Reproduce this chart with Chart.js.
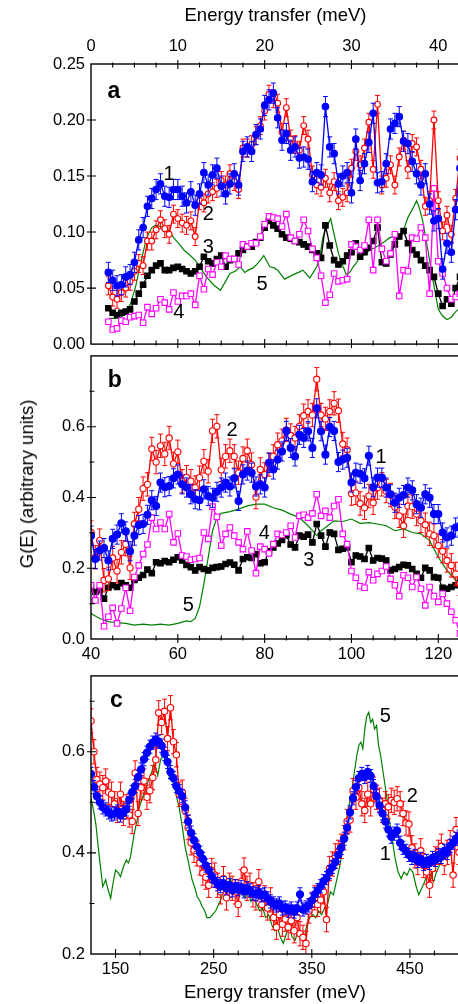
<!DOCTYPE html>
<html>
<head>
<meta charset="utf-8">
<script src="https://cdn.jsdelivr.net/npm/chart.js@4.4.1/dist/chart.umd.min.js"></script>
<style>
  html, body { margin: 0; padding: 0; background: #fff; overflow: hidden; width: 458px; height: 1004px; }
  canvas { position: absolute; left: 0; }
  #ytitle {
    position: absolute; left: 27px; top: 484px;
    transform: translate(-50%, -50%) rotate(-90deg);
    white-space: nowrap; font: 18.5px "Liberation Sans", Arial, sans-serif; color: #000;
  }
</style>
</head>
<body>
<canvas id="chartA" width="480" height="360" style="top:0px"></canvas>
<canvas id="chartB" width="480" height="335" style="top:340px"></canvas>
<canvas id="chartC" width="480" height="344" style="top:660px"></canvas>
<div id="ytitle">G(E) (arbitrary units)</div>
<script>
// energy grids (meV)
function grid(start, step, count) {
  const out = [];
  for (let i = 0; i < count; i++) out.push(+(start + i * step).toFixed(3));
  return out;
}
const energyA = grid(2, 0.5, 82);   // 2 .. 42.5
const energyB = grid(40, 1, 86);    // 40 .. 125
const energyC = grid(125, 3, 126);  // 125 .. 500

// ---- panel a ----
const blueA = [
  0.064, 0.057, 0.052, 0.053, 0.060, 0.062, 0.073, 0.093, 0.104, 0.123,
  0.130, 0.138, 0.143, 0.132, 0.131, 0.138, 0.138, 0.132, 0.126, 0.136,
  0.124, 0.134, 0.153, 0.142, 0.151, 0.157, 0.141, 0.134, 0.143, 0.152,
  0.142, 0.172, 0.176, 0.172, 0.187, 0.192, 0.213, 0.218, 0.224, 0.202,
  0.182, 0.188, 0.173, 0.176, 0.166, 0.167, 0.165, 0.145, 0.153, 0.151,
  0.212, 0.176, 0.170, 0.143, 0.150, 0.153, 0.135, 0.183, 0.146, 0.161,
  0.180, 0.206, 0.144, 0.145, 0.161, 0.192, 0.197, 0.203, 0.181, 0.179,
  0.163, 0.152, 0.142, 0.152, 0.125, 0.110, 0.112, 0.067, 0.090, 0.082,
  0.120, 0.157
];
const redA = [
  0.052, 0.042, 0.040, 0.046, 0.050, 0.056, 0.065, 0.072, 0.070, 0.092,
  0.092, 0.102, 0.111, 0.103, 0.098, 0.116, 0.112, 0.108, 0.106, 0.110,
  0.096, 0.128, 0.126, 0.134, 0.136, 0.139, 0.146, 0.142, 0.152, 0.145,
  0.138, 0.175, 0.175, 0.178, 0.186, 0.195, 0.208, 0.223, 0.219, 0.215,
  0.189, 0.211, 0.183, 0.178, 0.173, 0.195, 0.183, 0.151, 0.142, 0.140,
  0.148, 0.135, 0.145, 0.128, 0.131, 0.135, 0.157, 0.172, 0.160, 0.175,
  0.198, 0.156, 0.214, 0.142, 0.148, 0.160, 0.142, 0.167, 0.182, 0.156,
  0.179, 0.176, 0.156, 0.123, 0.128, 0.200, 0.128, 0.101, 0.115, 0.098,
  0.130, 0.166
];
const blackA = [
  0.032, 0.028, 0.026, 0.028, 0.029, 0.031, 0.038, 0.045, 0.053, 0.061,
  0.066, 0.070, 0.072, 0.066, 0.066, 0.068, 0.069, 0.067, 0.065, 0.063,
  0.065, 0.069, 0.078, 0.074, 0.072, 0.076, 0.079, 0.069, 0.075, 0.076,
  0.081, 0.084, 0.087, 0.087, 0.091, 0.095, 0.104, 0.110, 0.106, 0.103,
  0.098, 0.095, 0.094, 0.092, 0.091, 0.089, 0.087, 0.084, 0.081, 0.077,
  0.106, 0.088, 0.075, 0.071, 0.074, 0.079, 0.082, 0.090, 0.078, 0.082,
  0.086, 0.092, 0.104, 0.073, 0.072, 0.080, 0.089, 0.096, 0.101, 0.090,
  0.084, 0.080, 0.075, 0.070, 0.066, 0.060, 0.045, 0.034, 0.040, 0.036,
  0.050, 0.060
];
const magentaA = [
  0.020, 0.013, 0.014, 0.021, 0.020, 0.024, 0.025, 0.026, 0.019, 0.033,
  0.027, 0.032, 0.040, 0.037, 0.031, 0.046, 0.038, 0.043, 0.043, 0.045,
  0.035, 0.061, 0.049, 0.067, 0.062, 0.073, 0.069, 0.079, 0.076, 0.076,
  0.071, 0.089, 0.087, 0.090, 0.090, 0.096, 0.107, 0.114, 0.113, 0.112,
  0.105, 0.116, 0.095, 0.092, 0.098, 0.111, 0.101, 0.085, 0.077, 0.061,
  0.037, 0.044, 0.063, 0.056, 0.057, 0.058, 0.089, 0.087, 0.084, 0.088,
  0.111, 0.066, 0.111, 0.085, 0.074, 0.081, 0.098, 0.043, 0.066, 0.065,
  0.095, 0.094, 0.104, 0.095, 0.045, 0.139, 0.074, 0.063, 0.050, 0.040,
  0.042, 0.045
];
const greenAE = [
  2, 3, 3.9, 4.5, 5.1, 5.8, 6.4, 7.0, 7.4, 8.0, 8.5, 9.0, 9.5, 10.1, 10.7,
  11.3, 12.0, 12.6, 13.3, 14.1, 14.9, 15.5, 16.0, 16.6, 17.2, 17.7, 18.1, 18.7, 19.3, 19.9,
  20.6, 21.1, 21.5, 22.3, 22.8, 23.3, 23.9, 24.4, 25.2, 25.6, 26.0, 26.4, 26.7, 27.1, 27.6,
  28.0, 28.5, 29.0, 29.4, 29.8, 30.2, 30.6, 31.0, 31.6, 32.1, 32.7, 33.3, 33.9, 34.4, 35.0,
  35.7, 36.1, 36.5, 37.0, 37.5, 37.8, 38.2, 38.5, 38.8, 39.2, 39.6, 40.0, 40.5, 41.0, 41.5,
  42.0, 42.5
];
const greenAV = [
  0.023, 0.023, 0.026, 0.035, 0.050, 0.075, 0.095, 0.104, 0.106, 0.105, 0.104, 0.101, 0.095, 0.090, 0.084,
  0.080, 0.075, 0.068, 0.060, 0.053, 0.048, 0.056, 0.063, 0.065, 0.069, 0.064, 0.066, 0.068, 0.073, 0.079,
  0.069, 0.068, 0.066, 0.058, 0.060, 0.062, 0.064, 0.066, 0.059, 0.064, 0.069, 0.080, 0.095, 0.104, 0.112,
  0.098, 0.081, 0.070, 0.062, 0.064, 0.069, 0.073, 0.078, 0.080, 0.084, 0.086, 0.089, 0.092, 0.095, 0.096,
  0.095, 0.104, 0.113, 0.120, 0.128, 0.122, 0.110, 0.097, 0.084, 0.065, 0.048, 0.031, 0.025, 0.022, 0.024,
  0.029, 0.032
];

// ---- panel b ----
const blueB = [
  0.292, 0.226, 0.250, 0.257, 0.222, 0.283, 0.295, 0.327, 0.304, 0.248,
  0.292, 0.322, 0.325, 0.351, 0.392, 0.376, 0.442, 0.429, 0.432, 0.454,
  0.465, 0.437, 0.428, 0.409, 0.395, 0.392, 0.423, 0.404, 0.399, 0.416,
  0.428, 0.442, 0.431, 0.454, 0.390, 0.465, 0.476, 0.470, 0.431, 0.437,
  0.428, 0.498, 0.479, 0.507, 0.530, 0.588, 0.540, 0.516, 0.577, 0.568,
  0.587, 0.540, 0.652, 0.587, 0.521, 0.599, 0.588, 0.500, 0.507, 0.512,
  0.442, 0.470, 0.467, 0.454, 0.518, 0.429, 0.456, 0.456, 0.428, 0.409,
  0.385, 0.399, 0.407, 0.428, 0.420, 0.381, 0.371, 0.409, 0.399, 0.353,
  0.353, 0.301, 0.287, 0.292, 0.315, 0.320
];
const redB = [
  0.301, 0.231, 0.278, 0.166, 0.170, 0.229, 0.192, 0.245, 0.268, 0.201,
  0.325, 0.367, 0.425, 0.437, 0.537, 0.500, 0.546, 0.523, 0.568, 0.495,
  0.529, 0.446, 0.457, 0.446, 0.428, 0.456, 0.502, 0.474, 0.588, 0.601,
  0.478, 0.516, 0.532, 0.516, 0.470, 0.510, 0.532, 0.493, 0.401, 0.479,
  0.465, 0.493, 0.516, 0.549, 0.560, 0.591, 0.575, 0.568, 0.601, 0.631,
  0.643, 0.633, 0.734, 0.633, 0.622, 0.643, 0.666, 0.645, 0.551, 0.535,
  0.411, 0.413, 0.383, 0.371, 0.404, 0.385, 0.428, 0.437, 0.418, 0.407,
  0.373, 0.348, 0.320, 0.376, 0.374, 0.353, 0.334, 0.323, 0.297, 0.292,
  0.264, 0.248, 0.222, 0.208, 0.184, 0.156
];
const blackB = [
  0.142, 0.133, 0.138, 0.114, 0.145, 0.152, 0.147, 0.158, 0.152, 0.145,
  0.167, 0.173, 0.181, 0.196, 0.186, 0.217, 0.214, 0.220, 0.217, 0.224,
  0.231, 0.222, 0.209, 0.203, 0.194, 0.203, 0.198, 0.194, 0.201, 0.203,
  0.205, 0.212, 0.216, 0.210, 0.194, 0.226, 0.231, 0.229, 0.240, 0.214,
  0.217, 0.248, 0.259, 0.270, 0.280, 0.293, 0.267, 0.259, 0.292, 0.289,
  0.295, 0.273, 0.325, 0.292, 0.261, 0.301, 0.297, 0.252, 0.255, 0.259,
  0.217, 0.236, 0.233, 0.226, 0.257, 0.222, 0.229, 0.227, 0.222, 0.194,
  0.198, 0.203, 0.210, 0.208, 0.198, 0.184, 0.173, 0.201, 0.194, 0.175,
  0.173, 0.145, 0.142, 0.147, 0.152, 0.161
];
const magentaB = [
  0.152, 0.109, 0.152, 0.036, 0.063, 0.088, 0.044, 0.086, 0.145, 0.080,
  0.175, 0.208, 0.240, 0.267, 0.343, 0.311, 0.329, 0.311, 0.353, 0.273,
  0.298, 0.236, 0.233, 0.224, 0.226, 0.229, 0.301, 0.283, 0.374, 0.345,
  0.264, 0.297, 0.315, 0.292, 0.273, 0.254, 0.304, 0.250, 0.186, 0.261,
  0.254, 0.242, 0.268, 0.297, 0.294, 0.301, 0.320, 0.287, 0.348, 0.351,
  0.343, 0.355, 0.409, 0.348, 0.362, 0.343, 0.376, 0.395, 0.297, 0.268,
  0.192, 0.173, 0.149, 0.145, 0.189, 0.166, 0.184, 0.192, 0.205, 0.170,
  0.152, 0.121, 0.180, 0.173, 0.147, 0.175, 0.142, 0.095, 0.147, 0.121,
  0.105, 0.128, 0.100, 0.077, 0.053, 0.016
];
const greenBE = [
  40, 42, 44, 46, 48, 50, 52, 54, 56, 58, 60, 62, 63, 64, 65, 66, 67, 68, 69, 70,
  72, 74, 76, 78, 80, 82, 84, 86, 88, 90, 91, 92, 93, 94, 96, 98, 100, 102, 104, 106,
  108, 110, 112, 114, 116, 118, 120, 122, 124, 125
];
const greenBV = [
  0.072, 0.058, 0.049, 0.046, 0.044, 0.039, 0.042, 0.039, 0.042, 0.039, 0.044, 0.051, 0.049, 0.058, 0.091, 0.156, 0.231, 0.306, 0.343, 0.355,
  0.360, 0.367, 0.376, 0.381, 0.381, 0.371, 0.364, 0.353, 0.343, 0.320, 0.306, 0.292, 0.306, 0.315, 0.334, 0.332, 0.339, 0.327, 0.329, 0.325,
  0.320, 0.306, 0.311, 0.301, 0.297, 0.278, 0.231, 0.194, 0.166, 0.161
];

// ---- panel c ----
const blueC = [
  0.556, 0.530, 0.512, 0.500, 0.490, 0.486, 0.480, 0.476, 0.478, 0.482,
  0.474, 0.480, 0.486, 0.505, 0.520, 0.532, 0.550, 0.565, 0.585, 0.598,
  0.610, 0.618, 0.624, 0.620, 0.612, 0.596, 0.580, 0.560, 0.548, 0.532,
  0.522, 0.512, 0.490, 0.462, 0.440, 0.425, 0.412, 0.400, 0.388, 0.375,
  0.366, 0.354, 0.345, 0.338, 0.334, 0.340, 0.330, 0.336, 0.326, 0.334,
  0.328, 0.332, 0.324, 0.330, 0.326, 0.320, 0.318, 0.322, 0.316, 0.318,
  0.310, 0.304, 0.300, 0.296, 0.300, 0.290, 0.292, 0.286, 0.290, 0.284,
  0.290, 0.318, 0.288, 0.292, 0.296, 0.306, 0.318, 0.326, 0.334, 0.344,
  0.350, 0.362, 0.372, 0.382, 0.396, 0.410, 0.428, 0.450, 0.480, 0.508,
  0.530, 0.548, 0.556, 0.550, 0.560, 0.552, 0.532, 0.512, 0.494, 0.478,
  0.462, 0.446, 0.432, 0.438, 0.444, 0.420, 0.410, 0.404, 0.396, 0.390,
  0.394, 0.384, 0.388, 0.378, 0.384, 0.380, 0.390, 0.386, 0.396, 0.392,
  0.404, 0.400, 0.414, 0.420, 0.428, 0.432
];
const redC = [
  0.661, 0.600, 0.545, 0.536, 0.529, 0.542, 0.520, 0.516, 0.497, 0.484,
  0.516, 0.478, 0.491, 0.475, 0.462, 0.558, 0.478, 0.529, 0.542, 0.510,
  0.523, 0.549, 0.584, 0.677, 0.658, 0.680, 0.626, 0.687, 0.620, 0.594,
  0.516, 0.520, 0.484, 0.450, 0.420, 0.405, 0.398, 0.380, 0.360, 0.352,
  0.336, 0.365, 0.356, 0.336, 0.323, 0.349, 0.311, 0.336, 0.330, 0.323,
  0.298, 0.343, 0.366, 0.330, 0.336, 0.317, 0.311, 0.343, 0.298, 0.311,
  0.291, 0.307, 0.272, 0.253, 0.278, 0.259, 0.269, 0.253, 0.266, 0.246,
  0.272, 0.240, 0.233, 0.221, 0.285, 0.298, 0.311, 0.298, 0.307, 0.323,
  0.268, 0.369, 0.378, 0.394, 0.401, 0.413, 0.430, 0.462, 0.465, 0.523,
  0.510, 0.529, 0.497, 0.484, 0.516, 0.497, 0.526, 0.510, 0.504, 0.484,
  0.497, 0.491, 0.504, 0.500, 0.507, 0.497, 0.478, 0.459, 0.457, 0.410,
  0.394, 0.381, 0.404, 0.375, 0.362, 0.336, 0.369, 0.388, 0.401, 0.413,
  0.381, 0.401, 0.420, 0.356, 0.446, 0.401
];
const greenCE = [
  125, 128, 130, 133, 137, 140, 142, 145, 147, 150, 153, 155, 158, 161, 163, 165, 169, 172, 174, 178,
  181, 184, 187, 189, 191, 193, 196, 199, 201, 203, 205, 207, 210, 212, 215, 218, 221, 225, 228, 231,
  233, 236, 238, 241, 243, 246, 249, 252, 255, 258, 261, 264, 267, 270, 273, 276, 279, 282, 285, 288,
  291, 294, 297, 300, 303, 306, 309, 312, 315, 318, 321, 324, 327, 330, 333, 336, 339, 342, 345, 348,
  351, 354, 357, 360, 363, 366, 369, 372, 375, 378, 381, 384, 387, 390, 393, 396, 398, 400, 402, 404,
  406, 408, 410, 412, 414, 416, 418, 420, 423, 426, 429, 432, 435, 438, 441, 444, 447, 450, 453, 456,
  459, 462, 465, 468, 471, 474, 477, 480, 483, 486, 489, 492, 495, 498
];
const greenCV = [
  0.508, 0.480, 0.456, 0.400, 0.333, 0.347, 0.330, 0.310, 0.335, 0.366, 0.360, 0.353, 0.372, 0.386, 0.380, 0.390, 0.437, 0.465, 0.488, 0.513,
  0.527, 0.546, 0.560, 0.575, 0.568, 0.553, 0.585, 0.592, 0.598, 0.570, 0.546, 0.545, 0.533, 0.512, 0.488, 0.452, 0.411, 0.375, 0.347, 0.330,
  0.314, 0.305, 0.295, 0.285, 0.272, 0.272, 0.278, 0.285, 0.298, 0.311, 0.336, 0.323, 0.349, 0.330, 0.323, 0.336, 0.317, 0.311, 0.323, 0.304,
  0.311, 0.298, 0.285, 0.291, 0.272, 0.278, 0.259, 0.246, 0.253, 0.233, 0.221, 0.240, 0.253, 0.233, 0.227, 0.246, 0.233, 0.227, 0.259, 0.272,
  0.278, 0.272, 0.285, 0.278, 0.291, 0.298, 0.323, 0.317, 0.343, 0.369, 0.401, 0.446, 0.484, 0.516, 0.555, 0.594, 0.613, 0.619, 0.606, 0.645,
  0.671, 0.678, 0.658, 0.664, 0.645, 0.652, 0.613, 0.594, 0.555, 0.516, 0.465, 0.426, 0.388, 0.362, 0.349, 0.362, 0.356, 0.369, 0.362, 0.336,
  0.317, 0.330, 0.343, 0.362, 0.356, 0.343, 0.362, 0.375, 0.388, 0.375, 0.394, 0.407, 0.420, 0.426
];

// error bar half-heights, one per measured series
const errA = { blue: 0.009, red: 0.008 };
const errB = { blue: 0.027, red: 0.033 };
const errC = { blue: 0.013, red: 0.024 };

// curve numbers and panel letters: [text, energy, G(E), bold]
const marksA = [['a', 2.65, 0.225, true], ['1', 9.0, 0.151], ['2', 13.5, 0.116], ['3', 13.5, 0.086], ['4', 10.1, 0.028], ['5', 19.7, 0.053]];
const marksB = [['b', 45.5, 0.730, true], ['2', 72.5, 0.589], ['1', 106.8, 0.513], ['4', 79.9, 0.299], ['3', 90.2, 0.223], ['5', 62.4, 0.096]];
const marksC = [['c', 151, 0.701, true], ['5', 425, 0.670], ['2', 452.4, 0.511], ['1', 425, 0.397]];

const FONT = '"Liberation Sans", Arial, sans-serif';
Chart.defaults.font.family = FONT;
Chart.defaults.color = '#000';

const isMult = (v, m) => Math.abs(v / m - Math.round(v / m)) < 1e-6;

// error bars are drawn just before their own dataset
Chart.register({
  id: 'errorBars',
  beforeDatasetDraw(chart, args) {
    const ds = chart.data.datasets[args.index];
    if (!ds.err) return;
    const { ctx, chartArea: a } = chart;
    const y = chart.scales.y;
    ctx.save();
    ctx.beginPath();
    ctx.rect(a.left, a.top, a.right - a.left, a.bottom - a.top);
    ctx.clip();
    ctx.strokeStyle = ds.borderColor;
    ctx.lineWidth = 1;
    ctx.beginPath();
    args.meta.data.forEach((pt, i) => {
      const v = ds.data[i].y;
      const top = y.getPixelForValue(v + ds.err);
      const bot = y.getPixelForValue(v - ds.err);
      ctx.moveTo(pt.x, top); ctx.lineTo(pt.x, bot);
      ctx.moveTo(pt.x - 2.5, top); ctx.lineTo(pt.x + 2.5, top);
      ctx.moveTo(pt.x - 2.5, bot); ctx.lineTo(pt.x + 2.5, bot);
    });
    ctx.stroke();
    ctx.restore();
  }
});

// box around the plot and inward tick marks
function frameTicks(sides) {
  return {
    id: 'frameTicks',
    afterDraw(chart) {
      const { ctx, chartArea: a } = chart;
      const xs = chart.scales.x, ys = chart.scales.y;
      ctx.save();
      ctx.strokeStyle = '#000';
      ctx.lineWidth = 1.4;
      ctx.strokeRect(a.left, a.top, a.right - a.left, a.bottom - a.top);
      ctx.lineWidth = 1.1;
      ctx.beginPath();
      xs.ticks.forEach((t) => {
        if (t.value <= xs.min + 1e-9 || t.value >= xs.max - 1e-9) return;
        const px = xs.getPixelForValue(t.value);
        const big = t.label !== '';
        const inn = big ? 5 : 3.5, out = big ? 4 : 1.5;
        if (sides.includes('top')) { ctx.moveTo(px, a.top - out); ctx.lineTo(px, a.top + inn); }
        if (sides.includes('bottom')) { ctx.moveTo(px, a.bottom + out); ctx.lineTo(px, a.bottom - inn); }
      });
      ys.ticks.forEach((t) => {
        if (t.value <= ys.min + 1e-9 || t.value >= ys.max - 1e-9) return;
        const py = ys.getPixelForValue(t.value);
        const big = t.label !== '';
        const inn = big ? 5 : 3.5, out = big ? 4 : 1.5;
        ctx.moveTo(a.left - out, py); ctx.lineTo(a.left + inn, py);
      });
      ctx.stroke();
      ctx.restore();
    }
  };
}

function textMarks(items) {
  return {
    id: 'textMarks',
    afterDatasetsDraw(chart) {
      const { ctx } = chart;
      const x = chart.scales.x, y = chart.scales.y;
      ctx.save();
      ctx.fillStyle = '#000';
      ctx.textAlign = 'center';
      ctx.textBaseline = 'middle';
      items.forEach(([txt, vx, vy, bold]) => {
        ctx.font = bold ? 'bold 23px ' + FONT : '20px ' + FONT;
        ctx.fillText(txt, x.getPixelForValue(vx), y.getPixelForValue(vy));
      });
      ctx.restore();
    }
  };
}

function pts(xs, ys) {
  return xs.map((x, i) => ({ x: x, y: ys[i] }));
}

function series(xs, ys, kind, r, err) {
  const base = { data: pts(xs, ys), showLine: true, borderWidth: 1.3, pointBorderWidth: 1.1, tension: 0 };
  if (kind === 'blue') Object.assign(base, { borderColor: '#0000ff', pointBackgroundColor: '#0000ff', pointStyle: 'circle', pointRadius: r, order: 0 });
  if (kind === 'red') Object.assign(base, { borderColor: '#ff0000', pointBackgroundColor: '#ffffff', pointStyle: 'circle', pointRadius: r - 0.4, order: 1 });
  if (kind === 'black') Object.assign(base, { borderColor: '#000000', pointBackgroundColor: '#000000', pointStyle: 'rect', pointRadius: 3.9, order: 3 });
  if (kind === 'magenta') Object.assign(base, { borderColor: '#ff00ff', pointBackgroundColor: '#ffffff', pointStyle: 'rect', pointRadius: 3.9, order: 2 });
  if (kind === 'green') Object.assign(base, { borderColor: '#008000', pointRadius: 0, borderWidth: 1.2, order: 4 });
  if (err) base.err = err;
  return base;
}

function axisBase(extra) {
  return Object.assign({
    type: 'linear',
    grid: { display: false, drawTicks: false },
    border: { display: false }
  }, extra);
}

function makeChart(id, opts) {
  return new Chart(document.getElementById(id), {
    type: 'line',
    data: { datasets: opts.datasets },
    options: {
      responsive: false,
      animation: false,
      events: [],
      layout: { padding: opts.padding },
      plugins: { legend: { display: false }, tooltip: { enabled: false } },
      scales: { x: opts.x, y: opts.y }
    },
    plugins: [frameTicks(opts.tickSides), textMarks(opts.marks)]
  });
}

const tickFont = { size: 16.5 };
const titleFont = { size: 18.5 };

makeChart('chartA', {
  padding: { left: 0, top: 0, right: 20, bottom: 12 },
  tickSides: ['top', 'bottom'],
  marks: marksA,
  datasets: [
    series(energyA, blueA, 'blue', 3.3, errA.blue),
    series(energyA, redA, 'red', 3.3, errA.red),
    series(energyA, magentaA, 'magenta'),
    series(energyA, blackA, 'black'),
    series(greenAE, greenAV, 'green')
  ],
  x: axisBase({
    position: 'top', min: 0, max: 42.5,
    ticks: { stepSize: 2.5, autoSkip: false, maxRotation: 0, padding: 8, font: tickFont,
      callback: (v) => (isMult(v, 10) ? String(v) : '') },
    title: { display: true, text: 'Energy transfer (meV)', font: titleFont, padding: { top: 5, bottom: 0 } },
    afterFit: (s) => { s.height = 64; }
  }),
  y: axisBase({
    min: 0, max: 0.25,
    ticks: { stepSize: 0.05, autoSkip: false, padding: 6, font: tickFont, callback: (v) => v.toFixed(2) },
    afterFit: (s) => { s.width = 91; }
  })
});

makeChart('chartB', {
  padding: { left: 0, top: 15, right: 20, bottom: 6 },
  tickSides: ['bottom'],
  marks: marksB,
  datasets: [
    series(energyB, blueB, 'blue', 3.5, errB.blue),
    series(energyB, redB, 'red', 3.5, errB.red),
    series(energyB, magentaB, 'magenta'),
    series(energyB, blackB, 'black'),
    series(greenBE, greenBV, 'green')
  ],
  x: axisBase({
    position: 'bottom', min: 40, max: 125,
    ticks: { stepSize: 5, autoSkip: false, maxRotation: 0, padding: 6, font: tickFont,
      callback: (v) => (isMult(v, 20) ? String(v) : '') },
    afterFit: (s) => { s.height = 30; }
  }),
  y: axisBase({
    min: 0, max: 0.8,
    ticks: { stepSize: 0.1, autoSkip: false, padding: 6, font: tickFont,
      callback: (v) => (isMult(v, 0.2) && v < 0.79 ? v.toFixed(1) : '') },
    afterFit: (s) => { s.width = 91; }
  })
});

makeChart('chartC', {
  padding: { left: 0, top: 9, right: 21, bottom: 0 },
  tickSides: ['bottom'],
  marks: marksC,
  datasets: [
    series(energyC, blueC, 'blue', 3.6, errC.blue),
    series(energyC, redC, 'red', 3.6, errC.red),
    series(greenCE, greenCV, 'green')
  ],
  x: axisBase({
    position: 'bottom', min: 125, max: 500,
    ticks: { stepSize: 25, autoSkip: false, maxRotation: 0, padding: 6, font: tickFont,
      callback: (v) => (isMult(v - 150, 100) ? String(v) : '') },
    title: { display: true, text: 'Energy transfer (meV)', font: titleFont, padding: { top: 0, bottom: 0 } },
    afterFit: (s) => { s.height = 50; }
  }),
  y: axisBase({
    min: 0.2, max: 0.75,
    ticks: { stepSize: 0.1, autoSkip: false, padding: 6, font: tickFont,
      callback: (v) => (isMult(v, 0.2) ? v.toFixed(1) : '') },
    afterFit: (s) => { s.width = 91; }
  })
});
</script>
</body>
</html>
